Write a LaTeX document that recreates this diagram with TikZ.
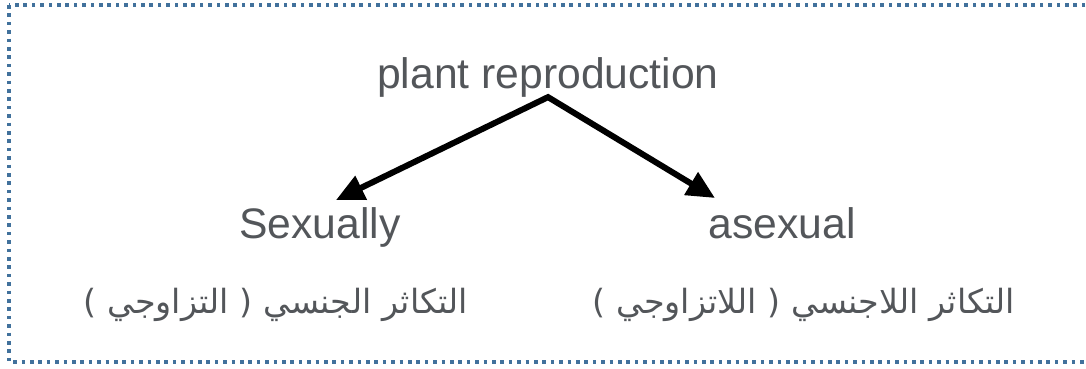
\documentclass[tikz,border=0pt]{standalone}
\usepackage{fontspec}
\setmainfont{Liberation Sans}
\newfontfamily\arabicfont[Script=Arabic]{DejaVu Sans}
\TeXXeTstate=1
\usetikzlibrary{arrows.meta}

\definecolor{framecol}{RGB}{65,113,156}
\definecolor{txtgray}{RGB}{83,86,90}

\begin{document}
\begin{tikzpicture}[x=0.75pt, y=-0.75pt, >={Triangle[length=21pt,width=19pt]},
    entxt/.style={text=txtgray, font=\fontsize{32}{38}\selectfont, inner sep=0pt, anchor=base},
    artxt/.style={text=txtgray, font=\arabicfont\fontsize{25}{30}\selectfont, inner sep=0pt, anchor=base},
    branch/.style={<->, line width=4.5pt, line join=miter}]
     \useasboundingbox (0,0) rectangle (1086,368);
     % dotted frame, its right side runs off the page
     \begin{scope}
       \clip (0,0) rectangle (1086,368);
       \draw[framecol, line width=2.7pt, dash pattern=on 2.7pt off 3.6pt] (9,5) rectangle (1110,362);
     \end{scope}

     \node[entxt] (plant)     at (548,88)  {plant reproduction};
     \node[entxt] (sexual)    at (320,238) {Sexually};
     \node[entxt] (asexual)   at (782,238) {asexual};
     \node[artxt] (sexualAr)  at (276,313) {\beginR التكاثر الجنسي ( التزاوجي )\endR};
     \node[artxt] (asexualAr) at (804,313) {\beginR التكاثر اللاجنسي ( اللاتزاوجي )\endR};

     \coordinate (tipS) at (336,200);
     \coordinate (tipA) at (715,198);
     \draw[branch] (tipS) -- (plant.south) -- (tipA);
\end{tikzpicture}
\end{document}
